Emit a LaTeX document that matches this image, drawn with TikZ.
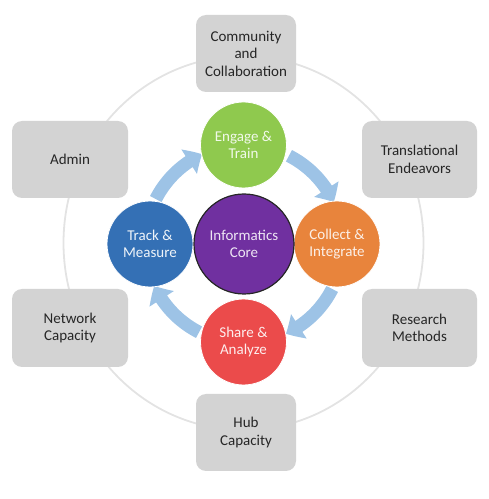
\documentclass[tikz,border=0pt]{standalone}
\usepackage{fontspec}
\setmainfont{Carlito}
\usetikzlibrary{arrows.meta,bending}
\definecolor{boxgray}{HTML}{D3D3D3}
\definecolor{boxtext}{HTML}{262626}
\definecolor{ringgray}{HTML}{E3E3E3}
\definecolor{arrowblue}{HTML}{9DC3E6}
\definecolor{cgreen}{HTML}{8FC94E}
\definecolor{cpurple}{HTML}{7030A0}
\definecolor{cblue}{HTML}{3470B5}
\definecolor{corange}{HTML}{E8843C}
\definecolor{cred}{HTML}{EB4B4B}
\begin{document}
\begin{tikzpicture}[x=1pt,y=1pt,
  outerbox/.style={draw=none,fill=boxgray,rounded corners=10pt,
    text=boxtext,align=center,font=\fontsize{15}{17.5}\selectfont,
    inner sep=0pt},
  stage/.style={circle,minimum size=86pt,inner sep=0pt,align=center,
    font=\fontsize{15}{17.5}\selectfont,draw=white,line width=0.8pt},
  cyclearrow/.style={arrowblue,line width=13pt,
    -{Triangle[width=28pt,length=15pt,bend]}}
]
\useasboundingbox (0,0) rectangle (489,499);
% outer ring
\draw[ringgray,line width=1.8pt] (243.5,256) ellipse [x radius=180,y radius=187];
% outer boxes
\node[outerbox,minimum width=100pt,minimum height=77pt] (comm) at (246,445.5) {Community\\and\\Collaboration};
\node[outerbox,minimum width=116pt,minimum height=77pt] (admin) at (70,339.5) {Admin};
\node[outerbox,minimum width=115pt,minimum height=77pt] (trans) at (419.5,339.5) {Translational\\Endeavors};
\node[outerbox,minimum width=116pt,minimum height=78pt] (net) at (70,171) {Network\\Capacity};
\node[outerbox,minimum width=115pt,minimum height=78pt] (res) at (419.5,171) {Research\\Methods};
\node[outerbox,minimum width=100pt,minimum height=77pt] (hub) at (246,66.5) {Hub\\Capacity};
% centre
\coordinate (c) at (244,255);
% cycle arrows
\draw[cyclearrow] ([shift={(153:99)}]c) arc[start angle=153,end angle=115,radius=99];
\draw[cyclearrow] ([shift={(63:99)}]c) arc[start angle=63,end angle=25,radius=99];
\draw[cyclearrow] ([shift={(-27:99)}]c) arc[start angle=-27,end angle=-65,radius=99];
\draw[cyclearrow] ([shift={(-117:99)}]c) arc[start angle=-117,end angle=-155,radius=99];
% stage circles
\node[stage,fill=cgreen,text=white!88!cgreen] (engage) at (243.5,354) {Engage \&\\Train};
\node[stage,fill=corange,text=white!88!corange] (collect) at (337,255) {Collect \&\\Integrate};
\node[stage,fill=cred,text=white!90!cred] (share) at (243.5,157) {Share \&\\Analyze};
\node[stage,fill=cblue,text=white!92!cblue] (track) at (150,255) {Track \&\\Measure};
\node[stage,minimum size=100pt,fill=cpurple,draw=black!85,line width=1.2pt,text=white!88!cpurple] (core) at (c) {Informatics\\Core};
\end{tikzpicture}
\end{document}
